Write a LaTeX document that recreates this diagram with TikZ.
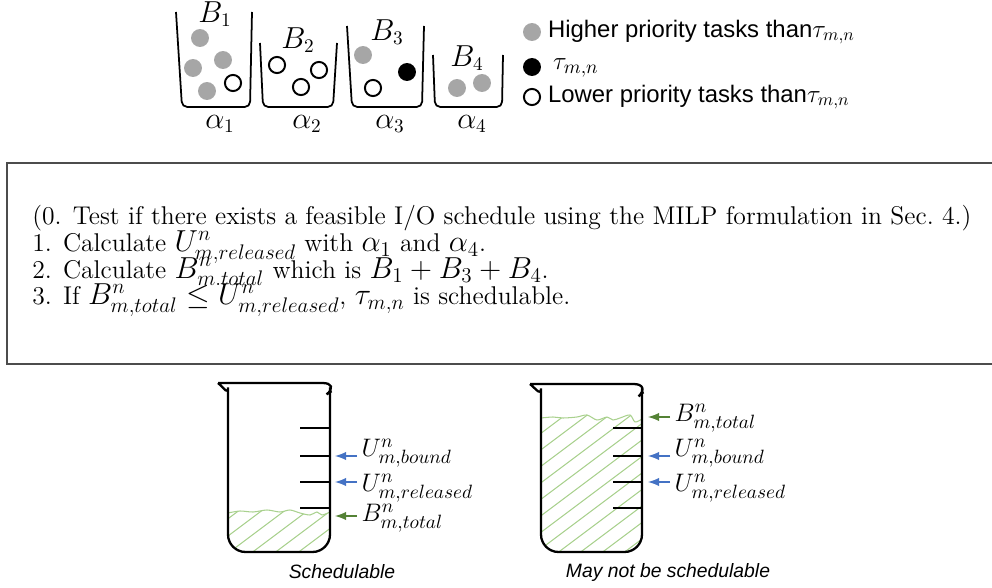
\documentclass[tikz,border=0pt]{standalone}
\usepackage{fontspec}
\setsansfont{Liberation Sans}
\usetikzlibrary{positioning}
\DeclareMathSizes{14.6}{17}{12.5}{10}
\definecolor{arrblue}{RGB}{68,114,196}
\definecolor{arrgreen}{RGB}{84,130,53}
\definecolor{liquid}{RGB}{169,209,142}
\begin{document}
\begin{tikzpicture}[x=0.02cm, y=-0.02cm,
  jar/.style={line width=1pt, rounded corners=3},
  beaker/.style={line width=1.3pt},
  hiball/.style={circle, fill=black!35, minimum size=10.2pt, inner sep=0},
  meball/.style={circle, fill=black, minimum size=10.2pt, inner sep=0},
  loball/.style={circle, draw, line width=1.1pt, minimum size=9.2pt, inner sep=0},
  lbl/.style={font=\fontsize{16}{19}\selectfont},
  legend/.style={anchor=west, inner sep=1pt, font=\sffamily\fontsize{13.6}{16}\selectfont},
  steptext/.style={anchor=base west, inner sep=0, font=\fontsize{14.6}{17}\selectfont},
  level/.style={anchor=west, inner sep=2.5pt, font=\fontsize{15.5}{18}\selectfont},
  caption/.style={font=\sffamily\itshape\fontsize{11}{13}\selectfont},
  hatch/.style={liquid, line width=0.6pt},
  bluearr/.style={->, >=latex, arrblue, line width=1.2pt},
  greenarr/.style={->, >=latex, arrgreen, line width=1.2pt}]

\useasboundingbox (0,0) rectangle (992,588);

% buckets
\draw[jar] (176,12) -- (182,107) -- (250,107) -- (252,12);
\draw[jar] (260,43) -- (263,107) -- (333,107) -- (337,43);
\draw[jar] (347,26) -- (352,107) -- (422,107) -- (424,26);
\draw[jar] (433,55) -- (435,107) -- (502,107) -- (503,55);

\node[lbl] (b1) at (215,14) {$B_1$};
\node[lbl] (b2) at (298,40) {$B_2$};
\node[lbl] (b3) at (387,32) {$B_3$};
\node[lbl] (b4) at (467,58) {$B_4$};

\foreach \x/\i in {220/1,307/2,390/3,472/4}
  \node[lbl] (a\i) at (\x,124) {$\alpha_\i$};

\foreach \x/\y [count=\i] in {200/38,193/68,223/60,207/91,363/55,457/88,482/83}
  \node[hiball] (hi\i) at (\x,\y) {};
\foreach \x/\y [count=\i] in {233/83,277/65,319/70,301/87,373/88}
  \node[loball] (lo\i) at (\x,\y) {};
\node[meball] (me) at (407,72) {};

% legend
\node[hiball] (khi) at (532,32) {};
\node[meball] (kme) at (532,67) {};
\node[loball] (klo) at (532,97) {};
\node[legend] (thi) at (546,32) {Higher priority tasks than$\tau_{m,n}$};
\node[legend, font=\fontsize{15}{18}\selectfont] (tme) at (551,68) {$\tau_{m,n}$};
\node[legend] (tlo) at (546,97) {Lower priority tasks than$\tau_{m,n}$};

% test box
\draw[black!70, line width=0.8pt] (992,163) -- (7,163) -- (7,364) -- (992,364);
\node[steptext] (s0) at (32,225) {(0. Test if there exists a feasible I/O schedule using the MILP formulation in Sec.~4.)};
\node[steptext] (s1) at (32,252) {1. Calculate $U^n_{m,released}$ with $\alpha_1$ and $\alpha_4$.};
\node[steptext] (s2) at (32,278) {2. Calculate $B^n_{m.total}$ which is $B_1+B_3+B_4$.};
\node[steptext] (s3) at (32,305) {3. If $B^n_{m,total} \leq U^n_{m,released}$, $\tau_{m,n}$ is schedulable.};

% left beaker
\begin{scope}
\clip[rounded corners=10] (228,395) -- (330,395) -- (330,552) -- (228,552) -- cycle;
\clip plot[smooth] coordinates {(228,513) (240,511) (253,512) (267,510) (280,512) (290,510) (300,513) (310,515) (317,512) (322,515) (330,512)} -- (330,560) -- (228,560) -- cycle;
\foreach \k in {0,...,8} \draw[hatch] (150+\k*23,560) -- ++(140,-105);
\end{scope}
\draw[hatch] plot[smooth] coordinates {(228,513) (240,511) (253,512) (267,510) (280,512) (290,510) (300,513) (310,515) (317,512) (322,515) (330,512)};
\draw[beaker, rounded corners=10] (218,383) -- (340,383) .. controls (333,389) and (330,395) .. (330,405) -- (330,552) -- (228,552) -- (228,405) .. controls (228,395) and (225,389) .. (218,383);
\foreach \y in {428,456,482,508} \draw[beaker] (300,\y) -- (330,\y);

\coordinate (tbL) at (335,456);
\coordinate (trL) at (335,482);
\coordinate (ttL) at (335,516);
\node[level] (ubL) at (357,453) {$U^n_{m,bound}$};
\node[level] (urL) at (357,488) {$U^n_{m,released}$};
\node[level] (btL) at (357,518) {$B^n_{m,total}$};
\draw[bluearr] (ubL.west |- tbL) -- (tbL);
\draw[bluearr] (urL.west |- trL) -- (trL);
\draw[greenarr] (btL.west |- ttL) -- (ttL);
\node[caption] (capL) at (342,572) {Schedulable};

% right beaker
\begin{scope}
\clip[rounded corners=10] (541,395) -- (642,395) -- (642,552) -- (541,552) -- cycle;
\clip plot[smooth] coordinates {(541,418) (553,417) (563,418) (577,417) (587,415) (597,420) (607,417) (613,420) (620,418) (630,415) (635,422) (642,419)} -- (642,560) -- (541,560) -- cycle;
\foreach \k in {0,...,13} \draw[hatch] (350+\k*22,560) -- ++(200,-150);
\end{scope}
\draw[hatch] plot[smooth] coordinates {(541,418) (553,417) (563,418) (577,417) (587,415) (597,420) (607,417) (613,420) (620,418) (630,415) (635,422) (642,419)};
\draw[beaker, rounded corners=10] (530,384) -- (651,384) .. controls (645,390) and (642,396) .. (642,406) -- (642,552) -- (541,552) -- (541,406) .. controls (541,396) and (537,390) .. (530,384);
\foreach \y in {428,456,482,508} \draw[beaker] (613,\y) -- (642,\y);

\coordinate (ttR) at (648,417);
\coordinate (tbR) at (648,456);
\coordinate (trR) at (648,482);
\node[level] (btR) at (670,418) {$B^n_{m,total}$};
\node[level] (ubR) at (670,453) {$U^n_{m,bound}$};
\node[level] (urR) at (670,488) {$U^n_{m,released}$};
\draw[greenarr] (btR.west |- ttR) -- (ttR);
\draw[bluearr] (ubR.west |- tbR) -- (tbR);
\draw[bluearr] (urR.west |- trR) -- (trR);
\node[caption] (capR) at (668,573) {May not be schedulable};

\end{tikzpicture}
\end{document}
